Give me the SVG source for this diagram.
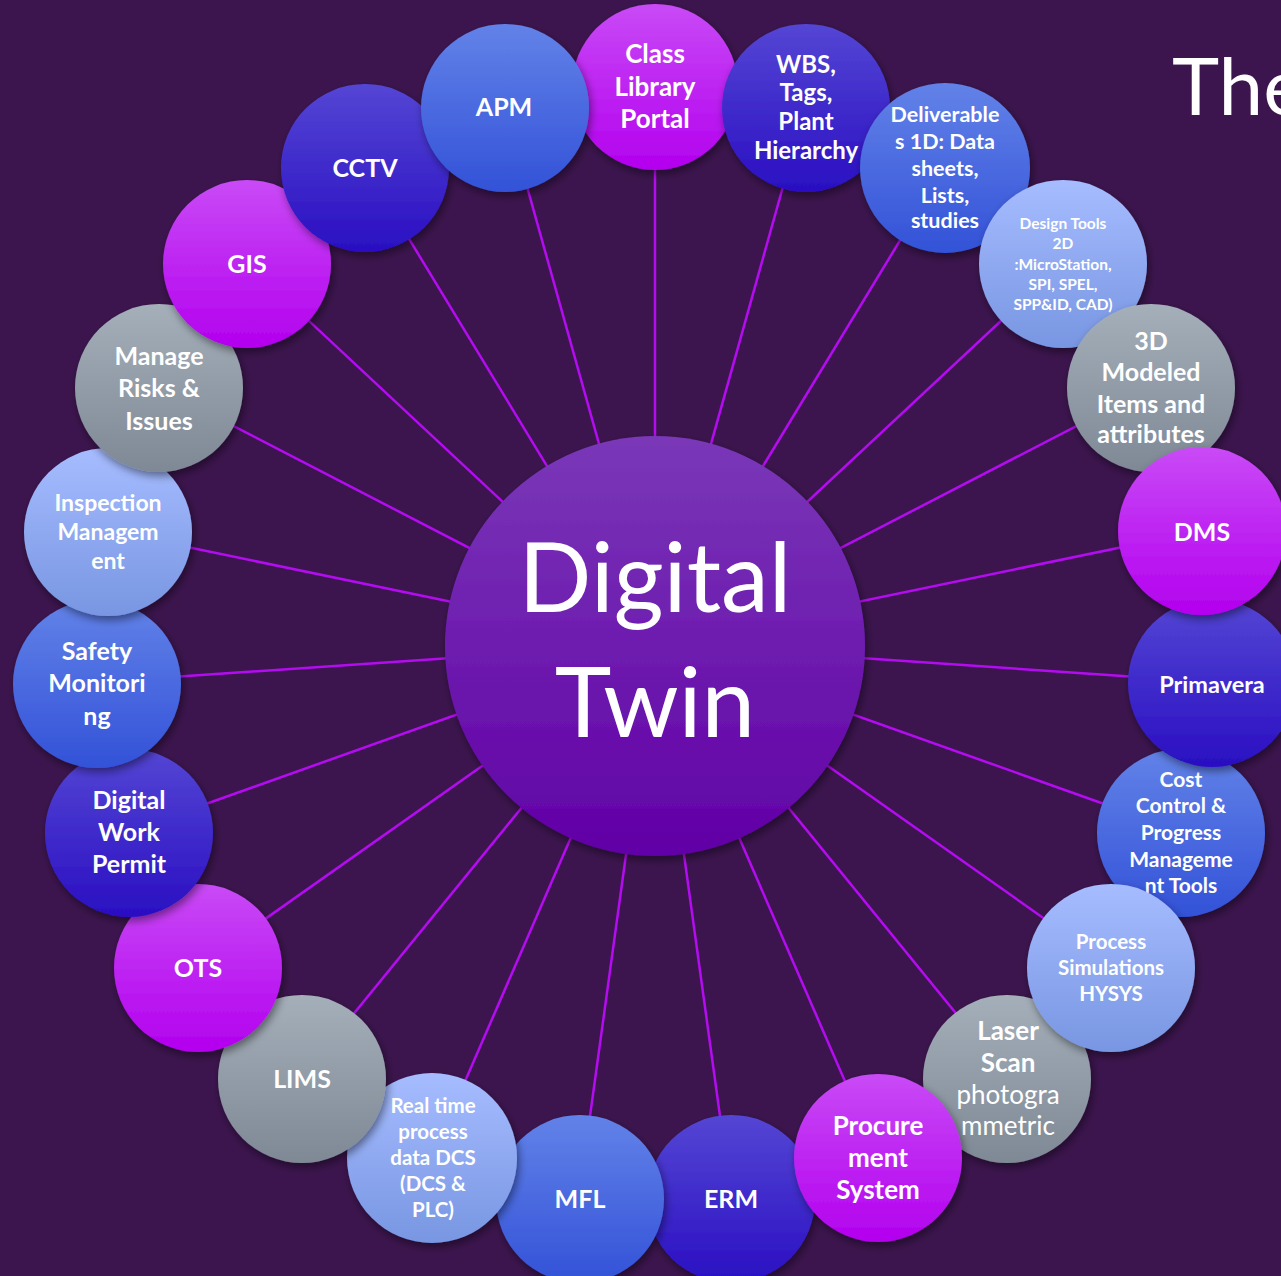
<svg xmlns="http://www.w3.org/2000/svg" width="1281" height="1276" viewBox="0 0 1281 1276">
<style>
.t{font-family:Lato,"Open Sans","Liberation Sans",sans-serif;font-weight:700;fill:#fff;text-anchor:middle}
.r{font-weight:400}
.c{stroke:#b40cf0;stroke-width:2.5;fill:none}
</style>
<defs>
<linearGradient id="gm" x1="0" y1="0" x2="0" y2="1"><stop offset="0" stop-color="#c94af6"/><stop offset="1" stop-color="#b300ee"/></linearGradient>
<linearGradient id="gi" x1="0" y1="0" x2="0" y2="1"><stop offset="0" stop-color="#5446d4"/><stop offset="1" stop-color="#2a0fc2"/></linearGradient>
<linearGradient id="gb" x1="0" y1="0" x2="0" y2="1"><stop offset="0" stop-color="#6282e8"/><stop offset="1" stop-color="#3352d8"/></linearGradient>
<linearGradient id="gl" x1="0" y1="0" x2="0" y2="1"><stop offset="0" stop-color="#a6bcff"/><stop offset="1" stop-color="#7896e2"/></linearGradient>
<linearGradient id="gg" x1="0" y1="0" x2="0" y2="1"><stop offset="0" stop-color="#a5afba"/><stop offset="1" stop-color="#7f8995"/></linearGradient>
<linearGradient id="gc" x1="0" y1="0" x2="0" y2="1"><stop offset="0" stop-color="#7a38b8"/><stop offset="1" stop-color="#6100a6"/></linearGradient>
<filter id="sh" x="-20%" y="-20%" width="140%" height="140%"><feDropShadow dx="2" dy="4" stdDeviation="4" flood-color="#000" flood-opacity="0.45"/></filter>
</defs>
<rect width="1281" height="1276" fill="#3c154e"/>
<text x="1172" y="115" font-family="Lato,'Open Sans','Liberation Sans',sans-serif" font-size="80" fill="#fff">The</text>
<g id="connectors">
<line class="c" x1="655" y1="644" x2="655" y2="87"/>
<line class="c" x1="655" y1="644" x2="805" y2="108"/>
<line class="c" x1="655" y1="644" x2="944" y2="168"/>
<line class="c" x1="655" y1="644" x2="1062" y2="264"/>
<line class="c" x1="655" y1="644" x2="1150" y2="388"/>
<line class="c" x1="655" y1="644" x2="1200" y2="531"/>
<line class="c" x1="655" y1="644" x2="1211" y2="682"/>
<line class="c" x1="655" y1="644" x2="1180" y2="831"/>
<line class="c" x1="655" y1="644" x2="1110" y2="965"/>
<line class="c" x1="655" y1="644" x2="1007" y2="1076"/>
<line class="c" x1="655" y1="644" x2="877" y2="1155"/>
<line class="c" x1="655" y1="644" x2="731" y2="1196"/>
<line class="c" x1="655" y1="644" x2="579" y2="1196"/>
<line class="c" x1="655" y1="644" x2="433" y2="1155"/>
<line class="c" x1="655" y1="644" x2="303" y2="1076"/>
<line class="c" x1="655" y1="644" x2="200" y2="965"/>
<line class="c" x1="655" y1="644" x2="130" y2="831"/>
<line class="c" x1="655" y1="644" x2="99" y2="682"/>
<line class="c" x1="655" y1="644" x2="110" y2="531"/>
<line class="c" x1="655" y1="644" x2="160" y2="388"/>
<line class="c" x1="655" y1="644" x2="248" y2="264"/>
<line class="c" x1="655" y1="644" x2="366" y2="168"/>
<line class="c" x1="655" y1="644" x2="505" y2="108"/>
</g>
<g id="n-class"><circle cx="655" cy="87" r="83" fill="url(#gm)" filter="url(#sh)"/><text class="t" font-size="26"><tspan x="655" y="63">Class</tspan><tspan x="655" y="96">Library</tspan><tspan x="655" y="128">Portal</tspan></text></g>
<g id="n-wbs"><circle cx="806" cy="108" r="84" fill="url(#gi)" filter="url(#sh)"/><text class="t" font-size="24"><tspan x="806" y="73">WBS,</tspan><tspan x="806" y="101">Tags,</tspan><tspan x="806" y="130">Plant</tspan><tspan x="806" y="159">Hierarchy</tspan></text></g>
<g id="n-deliv"><circle cx="945" cy="168" r="85" fill="url(#gb)" filter="url(#sh)"/><text class="t" font-size="21.5"><tspan x="945" y="122">Deliverable</tspan><tspan x="945" y="149">s 1D: Data</tspan><tspan x="945" y="176">sheets,</tspan><tspan x="945" y="203">Lists,</tspan><tspan x="945" y="228">studies</tspan></text></g>
<g id="n-design"><circle cx="1063" cy="264" r="84" fill="url(#gl)" filter="url(#sh)"/><text class="t" font-size="15.5"><tspan x="1063" y="229">Design Tools</tspan><tspan x="1063" y="249">2D</tspan><tspan x="1063" y="270">:MicroStation,</tspan><tspan x="1063" y="290">SPI, SPEL,</tspan><tspan x="1063" y="310">SPP&amp;ID, CAD)</tspan></text></g>
<g id="n-3d"><circle cx="1151" cy="388" r="84" fill="url(#gg)" filter="url(#sh)"/><text class="t" font-size="25"><tspan x="1151" y="350">3D</tspan><tspan x="1151" y="381">Modeled</tspan><tspan x="1151" y="413">Items and</tspan><tspan x="1151" y="443">attributes</tspan></text></g>
<g id="n-cost"><circle cx="1181" cy="833" r="84" fill="url(#gb)" filter="url(#sh)"/><text class="t" font-size="21"><tspan x="1181" y="787">Cost</tspan><tspan x="1181" y="813">Control &amp;</tspan><tspan x="1181" y="840">Progress</tspan><tspan x="1181" y="867">Manageme</tspan><tspan x="1181" y="893">nt Tools</tspan></text></g>
<g id="n-prima"><circle cx="1212" cy="683" r="84" fill="url(#gi)" filter="url(#sh)"/><text class="t" font-size="23.5" x="1212" y="693">Primavera</text></g>
<g id="n-dms"><circle cx="1202" cy="531" r="84" fill="url(#gm)" filter="url(#sh)"/><text class="t" font-size="25" x="1202" y="541">DMS</text></g>
<g id="n-laser"><circle cx="1007" cy="1079" r="84" fill="url(#gg)" filter="url(#sh)"/><text class="t" font-size="26"><tspan x="1008" y="1040">Laser</tspan><tspan x="1008" y="1072">Scan</tspan><tspan class="r" x="1008" y="1104">photogra</tspan><tspan class="r" x="1008" y="1135">mmetric</tspan></text></g>
<g id="n-process"><circle cx="1111" cy="968" r="84" fill="url(#gl)" filter="url(#sh)"/><text class="t" font-size="20.5"><tspan x="1111" y="949">Process</tspan><tspan x="1111" y="975">Simulations</tspan><tspan x="1111" y="1001">HYSYS</tspan></text></g>
<g id="n-erm"><circle cx="731" cy="1199" r="84" fill="url(#gi)" filter="url(#sh)"/><text class="t" font-size="25" x="731" y="1208">ERM</text></g>
<g id="n-proc"><circle cx="878" cy="1158" r="84" fill="url(#gm)" filter="url(#sh)"/><text class="t" font-size="26"><tspan x="878" y="1135">Procure</tspan><tspan x="878" y="1167">ment</tspan><tspan x="878" y="1199">System</tspan></text></g>
<g id="n-mfl"><circle cx="580" cy="1199" r="84" fill="url(#gb)" filter="url(#sh)"/><text class="t" font-size="25" x="580" y="1208">MFL</text></g>
<g id="n-real"><circle cx="432" cy="1158" r="85" fill="url(#gl)" filter="url(#sh)"/><text class="t" font-size="20.5"><tspan x="433" y="1113">Real time</tspan><tspan x="433" y="1139">process</tspan><tspan x="433" y="1165">data DCS</tspan><tspan x="433" y="1191">(DCS &amp;</tspan><tspan x="433" y="1217">PLC)</tspan></text></g>
<g id="n-lims"><circle cx="302" cy="1079" r="84" fill="url(#gg)" filter="url(#sh)"/><text class="t" font-size="25" x="302" y="1088">LIMS</text></g>
<g id="n-ots"><circle cx="198" cy="968" r="84" fill="url(#gm)" filter="url(#sh)"/><text class="t" font-size="25" x="198" y="977">OTS</text></g>
<g id="n-dwp"><circle cx="129" cy="833" r="84" fill="url(#gi)" filter="url(#sh)"/><text class="t" font-size="25"><tspan x="129" y="809">Digital</tspan><tspan x="129" y="841">Work</tspan><tspan x="129" y="873">Permit</tspan></text></g>
<g id="n-safety"><circle cx="97" cy="684" r="84" fill="url(#gb)" filter="url(#sh)"/><text class="t" font-size="25"><tspan x="97" y="660">Safety</tspan><tspan x="97" y="692">Monitori</tspan><tspan x="97" y="725">ng</tspan></text></g>
<g id="n-insp"><circle cx="108" cy="532" r="84" fill="url(#gl)" filter="url(#sh)"/><text class="t" font-size="23"><tspan x="108" y="511">Inspection</tspan><tspan x="108" y="540">Managem</tspan><tspan x="108" y="569">ent</tspan></text></g>
<g id="n-risk"><circle cx="159" cy="388" r="84" fill="url(#gg)" filter="url(#sh)"/><text class="t" font-size="25"><tspan x="159" y="365">Manage</tspan><tspan x="159" y="397">Risks &amp;</tspan><tspan x="159" y="430">Issues</tspan></text></g>
<g id="n-gis"><circle cx="247" cy="264" r="84" fill="url(#gm)" filter="url(#sh)"/><text class="t" font-size="25" x="247" y="273">GIS</text></g>
<g id="n-cctv"><circle cx="365" cy="168" r="84" fill="url(#gi)" filter="url(#sh)"/><text class="t" font-size="25" x="365" y="177">CCTV</text></g>
<g id="n-apm"><circle cx="505" cy="108" r="84" fill="url(#gb)" filter="url(#sh)"/><text class="t" font-size="25" x="504" y="116">APM</text></g>
<g id="n-center"><circle cx="655" cy="646" r="210" fill="url(#gc)" filter="url(#sh)"/><text class="t r" font-size="96"><tspan x="655" y="612">Digital</tspan><tspan x="655" y="737">Twin</tspan></text></g>
</svg>
